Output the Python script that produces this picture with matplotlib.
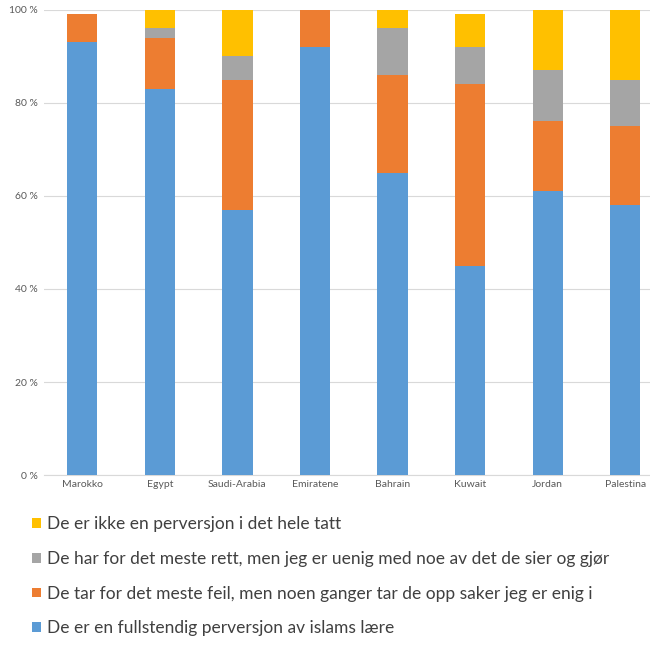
import numpy as np
import matplotlib
matplotlib.use('Agg')
import matplotlib.pyplot as plt

plt.rcParams['font.family'] = ['Lato', 'DejaVu Sans']

countries = ['Marokko', 'Egypt', 'Saudi-Arabia', 'Emiratene',
             'Bahrain', 'Kuwait', 'Jordan', 'Palestina']
fullstendig = [93, 83, 57, 92, 65, 45, 61, 58]
mest_feil = [6, 11, 28, 8, 21, 39, 15, 17]
mest_rett = [0, 2, 5, 0, 10, 8, 11, 10]
ikke = [0, 4, 10, 0, 4, 7, 13, 15]

labels = [
    'De er en fullstendig perversjon av islams lære',
    'De tar for det meste feil, men noen ganger tar de opp saker jeg er enig i',
    'De har for det meste rett, men jeg er uenig med noe av det de sier og gjør',
    'De er ikke en perversjon i det hele tatt',
]
colors = ['#5B9BD5', '#ED7D31', '#A5A5A5', '#FFC000']

fig = plt.figure(figsize=(6.5, 6.5), dpi=100)
ax = fig.add_axes([0.067, 0.269, 0.933, 0.716])

x = np.arange(len(countries))
bottom = np.zeros(len(countries))
handles = []
for vals, lab, col in zip([fullstendig, mest_feil, mest_rett, ikke], labels, colors):
    vals = np.array(vals, dtype=float)
    b = ax.bar(x, vals, 0.39, bottom=bottom, color=col, label=lab, zorder=3)
    handles.append(b)
    bottom += vals

ax.set_ylim(0, 100)
ax.set_xlim(-0.5, 7.32)
ax.set_yticks(range(0, 101, 20))
ax.set_yticklabels([f'{v} %' for v in range(0, 101, 20)])
ax.set_xticks(x)
ax.set_xticklabels(countries)
ax.grid(axis='y', color='#D9D9D9', linewidth=0.8, zorder=0)
for s in ['top', 'right', 'left']:
    ax.spines[s].set_visible(False)
ax.spines['bottom'].set_color('#D9D9D9')
ax.tick_params(axis='both', length=0, colors='#595959', labelsize=7.5)
ax.tick_params(axis='y', pad=4)

fig.legend(handles[::-1], labels[::-1], loc='upper left',
           bbox_to_anchor=(0.025, 0.23), frameon=False, fontsize=12.5,
           handlelength=0.5, handleheight=0.5, handletextpad=0.35,
           labelspacing=1.08, labelcolor='#404040')

fig.savefig('out.png', dpi=100)
